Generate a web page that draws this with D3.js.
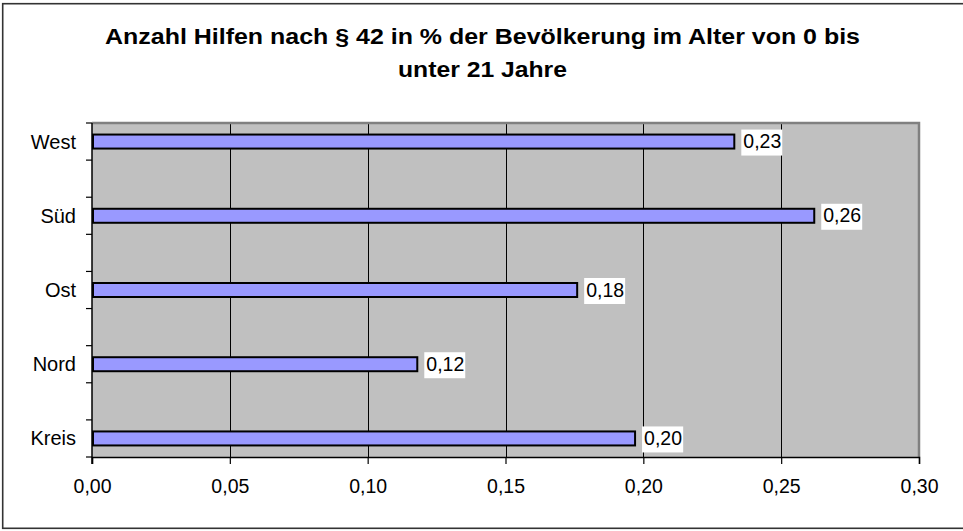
<!DOCTYPE html>
<html>
<head>
<meta charset="utf-8">
<script src="https://cdn.jsdelivr.net/npm/d3@7"></script>
<style>
  html, body { margin: 0; padding: 0; background: #fff; }
  svg { display: block; }
  text { font-family: "Liberation Sans", Arial, sans-serif; fill: #000; }
</style>
</head>
<body>
<svg id="chart" width="963" height="531"></svg>
<script>
// ---- data ----
const titleLines = ["Anzahl Hilfen nach § 42 in % der Bevölkerung im Alter von 0 bis", "unter 21 Jahre"];
const categories = ["Kreis", "Nord", "Ost", "Süd", "West"];
const values = [0.197, 0.118, 0.176, 0.262, 0.233];
const xTicks = [0, 0.05, 0.10, 0.15, 0.20, 0.25, 0.30];

const W = 963, H = 531;
const plot = { left: 92, right: 919, top: 123, bottom: 457 };
const slots = 9; // category tick marks every half category step

const loc = d3.formatLocale({ decimal: ",", thousands: ".", grouping: [3], currency: ["", "€"] });
const fmt = loc.format(".2f");

const svg = d3.select("#chart");

svg.append("rect").attr("x", 0).attr("y", 0).attr("width", W).attr("height", H).attr("fill", "#fff");
svg.append("rect").attr("x", 2.7).attr("y", 3.7).attr("width", 962).attr("height", 524.6)
  .attr("fill", "none").attr("stroke", "#333").attr("stroke-width", 1.6);

// title (original glyphs are slightly wider than the font, so stretch to measured width)
const titleWidths = [755, 169];
titleLines.forEach((t, i) => {
  svg.append("text").attr("text-anchor", "middle")
    .style("font-weight", "bold").style("font-size", "22.5px")
    .attr("x", 482.5).attr("y", 43.5 + i * 33)
    .attr("textLength", titleWidths[i]).attr("lengthAdjust", "spacingAndGlyphs")
    .text(t);
});

const x = d3.scaleLinear().domain([0, 0.30]).range([plot.left, plot.right]);
const ySlot = d3.scaleLinear().domain([0, slots]).range([plot.bottom, plot.top]);
const yCat = i => ySlot(2 * i + 0.5);

// plot area
svg.append("rect").attr("x", plot.left).attr("y", plot.top)
  .attr("width", plot.right - plot.left).attr("height", plot.bottom - plot.top)
  .attr("fill", "#c0c0c0");

// grid lines
svg.append("g").selectAll("line").data(xTicks.slice(1, -1)).join("line")
  .attr("x1", d => Math.round(x(d)) + 0.5).attr("x2", d => Math.round(x(d)) + 0.5)
  .attr("y1", plot.top).attr("y2", plot.bottom)
  .attr("stroke", "#000").attr("stroke-width", 1);

// plot border (top & right)
svg.append("path")
  .attr("d", `M${plot.left},${plot.top}H${plot.right}V${plot.bottom}`)
  .attr("fill", "none").attr("stroke", "#808080").attr("stroke-width", 2.5);

// x axis
const xAxis = d3.axisBottom(x).tickValues(xTicks).tickFormat(fmt).tickSize(7).tickPadding(15);
const gx = svg.append("g").attr("transform", `translate(0,${plot.bottom})`).call(xAxis);
gx.select(".domain").attr("stroke", "#000").attr("stroke-width", 1.5);
gx.selectAll(".tick line").attr("stroke", "#000").attr("stroke-width", 1.2);
gx.selectAll(".tick text").style("font-size", "19.5px").attr("font-family", null);

// y axis: line + ticks
const gy = svg.append("g");
gy.append("line").attr("x1", plot.left).attr("x2", plot.left).attr("y1", plot.top).attr("y2", plot.bottom + 7)
  .attr("stroke", "#000").attr("stroke-width", 1.5);
gy.selectAll("line.tk").data(d3.range(slots + 1)).join("line").attr("class", "tk")
  .attr("x1", plot.left - 6).attr("x2", plot.left)
  .attr("y1", d => ySlot(d)).attr("y2", d => ySlot(d))
  .attr("stroke", "#000").attr("stroke-width", 1.2);
gy.selectAll("text").data(categories).join("text")
  .attr("x", 76).attr("y", (d, i) => yCat(i) + 7)
  .attr("text-anchor", "end").style("font-size", "20px").text(d => d);

// bars
const barH = 15;
svg.append("g").selectAll("rect").data(values).join("rect")
  .attr("x", x(0) + 1).attr("y", (d, i) => yCat(i) - barH / 2 + 0.5)
  .attr("width", d => x(d) - x(0) - 1).attr("height", barH - 1)
  .attr("fill", "#9999ff").attr("stroke", "#000").attr("stroke-width", 2);

// data labels
const lab = svg.append("g").selectAll("g").data(values).join("g");
lab.each(function (d, i) {
  const g = d3.select(this);
  const t = g.append("text").attr("x", x(d) + 9).attr("y", yCat(i) + 6.5)
    .style("font-size", "19.5px").text(fmt(d));
  const bb = t.node().getBBox();
  g.insert("rect", "text").attr("x", bb.x - 2).attr("y", yCat(i) - 12)
    .attr("width", bb.width + 3).attr("height", 26).attr("fill", "#fff");
});
</script>
</body>
</html>
